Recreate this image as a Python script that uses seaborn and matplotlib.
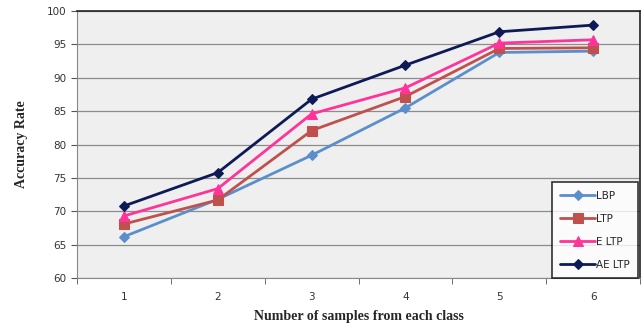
import pandas as pd
import seaborn as sns
import matplotlib.pyplot as plt
import numpy as np

# values
samples = [1, 2, 3, 4, 5, 6]
lbp = [66.2, 71.8, 78.4, 85.5, 93.8, 94.0]
ltp = [68.1, 71.7, 82.1, 87.2, 94.4, 94.5]
eltp = [69.3, 73.4, 84.6, 88.5, 95.2, 95.7]
aeltp = [70.8, 75.8, 86.8, 91.9, 96.9, 97.9]
methods = ["LBP", "LTP", "ELTP", "AELTP"]
legend_labels = ["LBP", "LTP", "E LTP", "AE LTP"]

df = pd.DataFrame({
    "samples": samples * 4,
    "acc": lbp + ltp + eltp + aeltp,
    "method": np.repeat(methods, len(samples)),
})

colors = {"LBP": "#5B8FCB", "LTP": "#C0504D", "ELTP": "#FF3399", "AELTP": "#0E1A55"}
markers = {"LBP": "D", "LTP": "s", "ELTP": "^", "AELTP": "D"}
msize = {"LBP": 5, "LTP": 7, "ELTP": 7, "AELTP": 5}

sns.set_style("white")
plt.rcParams["font.family"] = ["DejaVu Sans"]

fig = plt.figure(figsize=(6.42, 3.26), dpi=100)
ax = fig.add_axes([0.12, 0.147, 0.877, 0.819])
ax.set_facecolor("#EFEFEF")

for m in methods:
    sub = df[df["method"] == m]
    sns.lineplot(data=sub, x="samples", y="acc", ax=ax, color=colors[m],
                 marker=markers[m], markersize=msize[m], markeredgecolor=colors[m],
                 linewidth=2, label=m)

ax.set_xlim(0.5, 6.5)
ax.set_ylim(60, 100)
ax.set_yticks(range(60, 101, 5))
ax.set_xticks(samples)
ax.set_xticks(np.arange(0.5, 6.6, 1), minor=True)
ax.tick_params(axis="x", which="major", length=0, labelsize=7.5, pad=10, colors="#333333")
ax.tick_params(axis="x", which="minor", length=4, direction="out", color="#555555")
ax.tick_params(axis="y", length=4, direction="out", labelsize=7.5, colors="#333333", color="#555555")
ax.xaxis.set_ticks_position("bottom")
ax.yaxis.set_ticks_position("left")
ax.grid(axis="y", color="#8C8C8C", linewidth=0.9)
ax.grid(axis="x", visible=False)
for s in ["top", "right"]:
    ax.spines[s].set_color("#222222")
    ax.spines[s].set_linewidth(1.2)
for s in ["left", "bottom"]:
    ax.spines[s].set_color("#888888")
    ax.spines[s].set_linewidth(0.8)

ax.set_xlabel("Number of samples from each class", family="Liberation Serif",
              fontweight="bold", fontsize=10, labelpad=6)
ax.set_ylabel("Accuracy Rate", family="Liberation Serif", fontweight="bold",
              fontsize=10, labelpad=14)

handles, _ = ax.get_legend_handles_labels()
leg = ax.legend(handles, legend_labels, loc="lower right", bbox_to_anchor=(0.997, 0.0),
                frameon=True, fancybox=False, edgecolor="black", facecolor="white",
                fontsize=7.5, handlelength=3.4, labelspacing=1.25, borderpad=0.8,
                handletextpad=0.1, borderaxespad=0.0)
leg.get_frame().set_linewidth(1.2)

fig.savefig("out.png", dpi=100)
